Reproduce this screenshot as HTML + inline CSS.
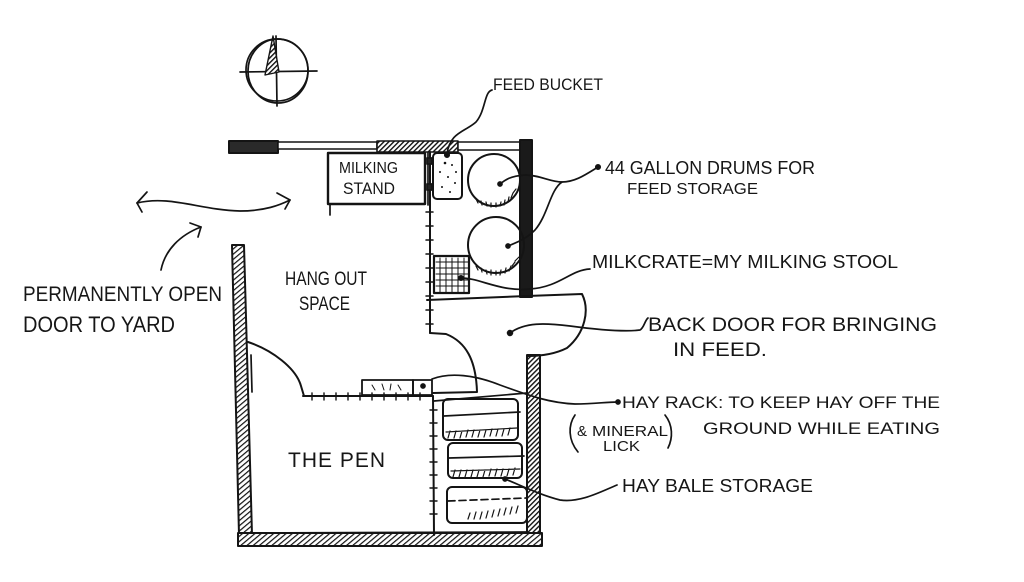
<!DOCTYPE html>
<html><head><meta charset="utf-8"><style>
html,body{margin:0;padding:0;background:#fff;}
svg{display:block;}
text{font-family:"Liberation Sans",sans-serif;fill:#161616;}
</style></head><body>
<svg width="1024" height="582" viewBox="0 0 1024 582" xmlns="http://www.w3.org/2000/svg">
<defs>
<pattern id="hd" width="3.5" height="3.5" patternUnits="userSpaceOnUse" patternTransform="rotate(45)"><rect width="3.5" height="3.5" fill="#fff"/><line x1="0" y1="0" x2="0" y2="3.5" stroke="#111" stroke-width="2.8"/></pattern>
<pattern id="hl" width="4" height="4" patternUnits="userSpaceOnUse" patternTransform="rotate(50)"><rect width="4" height="4" fill="#fff"/><line x1="0" y1="0" x2="0" y2="4" stroke="#111" stroke-width="2.4"/></pattern>
</defs>
<rect width="1024" height="582" fill="#fff"/>
<g fill="none" stroke="#141414" stroke-width="1.7" stroke-linecap="round" stroke-linejoin="round">
<!-- compass -->
<circle cx="277" cy="70" r="31"/>
<ellipse cx="278" cy="71" rx="30" ry="32"/>
<line x1="240" y1="72" x2="317" y2="71"/>
<line x1="276" y1="36" x2="277" y2="106"/>
<polygon points="273,36 265,75 279,72" fill="url(#hd)" stroke-width="1.4"/>

<!-- double arrow -->
<path d="M137,203 C170,195 200,210 240,211 C265,211 280,205 290,200"/>
<path d="M147,192 L137,203 L142,212"/>
<path d="M277,193 L290,200 L285,209"/>
<!-- curved arrow -->
<path d="M161,270 C165,250 180,235 201,227"/>
<path d="M190,223 L201,227 L198,237"/>

<!-- walls -->
<rect x="229" y="141" width="49" height="12" fill="#2a2a2a" stroke-width="2"/>
<rect x="278" y="142" width="99" height="7" fill="#fff" stroke-width="1.5"/>
<rect x="377" y="141" width="81" height="11" fill="url(#hd)" stroke-width="1.6"/>
<rect x="458" y="142" width="62" height="8" fill="#fff" stroke-width="1.5"/>
<rect x="520" y="140" width="12" height="157" fill="#1a1a1a" stroke-width="2"/>
<rect x="527" y="355" width="13" height="190" fill="url(#hd)" stroke-width="2"/>
<polygon points="232,245 244,245 252,535 239,535" fill="url(#hl)" stroke-width="2"/>
<rect x="238" y="533" width="304" height="13" fill="url(#hl)" stroke-width="2"/>
<line x1="252" y1="533" x2="527" y2="532"/>

<!-- milking stand -->
<rect x="328" y="153" width="97" height="51" stroke-width="2.4"/>
<line x1="330" y1="204" x2="330" y2="215"/>

<!-- service partition -->
<line x1="428" y1="153" x2="428" y2="205"/>
<line x1="430" y1="152" x2="430" y2="333" stroke-width="2"/>
<g stroke-width="1.5">
<line x1="426" y1="212" x2="433" y2="212"/><line x1="426" y1="226" x2="433" y2="226"/>
<line x1="426" y1="240" x2="433" y2="240"/><line x1="426" y1="254" x2="433" y2="254"/>
<line x1="426" y1="268" x2="433" y2="268"/><line x1="426" y1="282" x2="433" y2="282"/>
<line x1="426" y1="296" x2="433" y2="296"/><line x1="426" y1="310" x2="433" y2="310"/>
<line x1="426" y1="324" x2="433" y2="324"/>
</g>

<!-- feed bucket -->
<rect x="433" y="153" width="29" height="46" rx="4" stroke-width="2"/>
<rect x="427" y="158" width="5" height="6" fill="#222"/>
<rect x="427" y="184" width="5" height="6" fill="#222"/>
<g fill="#111" stroke="none">
<circle cx="445" cy="163" r="1.3"/><circle cx="452" cy="165" r="1"/><circle cx="440" cy="172" r="1"/>
<circle cx="448" cy="177" r="1"/><circle cx="455" cy="183" r="1"/><circle cx="442" cy="187" r="1"/>
<circle cx="450" cy="192" r="1"/><circle cx="456" cy="172" r="1"/>
</g>

<!-- drums -->
<circle cx="494" cy="180" r="26" stroke-width="2"/>
<circle cx="496" cy="245" r="28" stroke-width="2"/>
<g stroke-width="1.2">
<path d="M476,199 L478,203 M481,201 L482,205 M486,202 L487,206 M491,203 L491,207 M496,203 L496,207 M501,202 L500,206 M505,200 L504,205 M509,197 L508,202 M513,193 L511,198 M516,189 L513,193"/>
<path d="M476,266 L478,270 M481,268 L482,272 M486,270 L487,274 M491,270 L491,275 M496,271 L496,275 M501,270 L500,275 M506,268 L505,273 M511,266 L509,271 M515,262 L512,266 M519,257 L515,261"/>
</g>

<!-- milk crate -->
<rect x="434" y="256" width="35" height="37" stroke-width="2.2"/>
<g stroke-width="1">
<line x1="440" y1="258" x2="440" y2="292"/><line x1="446" y1="258" x2="446" y2="292"/>
<line x1="452" y1="258" x2="452" y2="292"/><line x1="458" y1="258" x2="458" y2="292"/><line x1="464" y1="258" x2="464" y2="292"/>
<line x1="436" y1="262" x2="468" y2="262"/><line x1="436" y1="268" x2="468" y2="268"/>
<line x1="436" y1="274" x2="468" y2="274"/><line x1="436" y1="280" x2="468" y2="280"/><line x1="436" y1="286" x2="468" y2="286"/>
</g>

<!-- back door -->
<path d="M427,300 L527,296 L582,294 C590,310 585,333 567,348 C555,354 540,356 528,356" stroke-width="2"/>
<!-- inner door -->
<path d="M430,333 L446,334 C466,342 476,360 477,392 L433,393" stroke-width="2"/>

<!-- pen door -->
<path d="M248,342 C272,350 296,368 301,386 L304,396" stroke-width="2"/>
<line x1="251" y1="355" x2="252" y2="392"/>
<!-- pen partition -->
<line x1="303" y1="396" x2="433" y2="396" stroke-width="2"/>
<g stroke-width="1.4">
<line x1="312" y1="393" x2="312" y2="400"/><line x1="324" y1="393" x2="324" y2="400"/>
<line x1="336" y1="393" x2="336" y2="400"/><line x1="348" y1="393" x2="348" y2="400"/>
<line x1="360" y1="393" x2="360" y2="400"/><line x1="372" y1="393" x2="372" y2="400"/>
<line x1="384" y1="393" x2="384" y2="400"/><line x1="396" y1="393" x2="396" y2="400"/>
<line x1="408" y1="393" x2="408" y2="400"/><line x1="420" y1="393" x2="420" y2="400"/>
</g>
<!-- hay rack + mineral -->
<rect x="362" y="380" width="51" height="15" stroke-width="1.8"/>
<rect x="413" y="380" width="19" height="15" stroke-width="1.8"/>
<circle cx="423" cy="386" r="2" fill="#111"/>
<path d="M372,385 L375,390 M382,384 L384,390 M391,384 L390,390 M398,385 L401,390" stroke-width="1"/>

<!-- vertical partition (pen / bales) -->
<line x1="433" y1="396" x2="434" y2="535" stroke-width="2"/>
<g stroke-width="1.4">
<line x1="430" y1="410" x2="437" y2="410"/><line x1="430" y1="423" x2="437" y2="423"/>
<line x1="430" y1="436" x2="437" y2="436"/><line x1="430" y1="449" x2="437" y2="449"/>
<line x1="430" y1="462" x2="437" y2="462"/><line x1="430" y1="475" x2="437" y2="475"/>
<line x1="430" y1="488" x2="437" y2="488"/><line x1="430" y1="501" x2="437" y2="501"/>
<line x1="430" y1="514" x2="437" y2="514"/>
</g>
<line x1="434" y1="401" x2="527" y2="393"/>

<!-- hay bales -->
<rect x="443" y="399" width="75" height="41" rx="5" stroke-width="2"/>
<line x1="444" y1="416" x2="520" y2="412"/>
<path d="M446,432 L517,428 M450,431 L448,438 M456,431 L454,438 M462,431 L460,438 M468,430 L466,437 M474,430 L472,437 M480,430 L478,437 M486,430 L484,437 M492,429 L490,436 M498,429 L496,436 M504,429 L502,436 M510,428 L508,435" stroke-width="1.2"/>
<rect x="448" y="443" width="74" height="35" rx="5" stroke-width="2"/>
<line x1="449" y1="458" x2="524" y2="456"/>
<path d="M451,471 L520,469 M455,470 L453,477 M461,470 L459,477 M467,470 L465,477 M473,470 L471,477 M479,470 L477,477 M485,470 L483,477 M491,469 L489,476 M497,469 L495,476 M503,469 L501,476 M509,469 L507,476 M515,468 L513,475" stroke-width="1.2"/>
<rect x="447" y="487" width="80" height="36" rx="5" stroke-width="2"/>
<line x1="448" y1="501" x2="526" y2="498" stroke-dasharray="7,4"/>
<path d="M470,513 L468,519 M476,512 L474,519 M482,512 L480,519 M488,511 L486,518 M494,510 L492,517 M500,509 L498,516 M506,508 L504,515 M512,507 L510,514 M518,506 L516,513" stroke-width="1.2"/>

<!-- leaders -->
<path d="M492,90 C484,92 486,110 476,122 C465,132 450,132 447,154"/>
<circle cx="447" cy="155" r="2.2" fill="#111"/>
<path d="M598,167 C585,175 575,182 562,182 C550,182 540,175 525,175 C510,176 505,180 500,184"/>
<path d="M562,182 C550,190 548,215 535,230 C525,240 515,243 508,246"/>
<circle cx="598" cy="167" r="2.2" fill="#111"/>
<circle cx="500" cy="184" r="2" fill="#111"/>
<circle cx="508" cy="246" r="2" fill="#111"/>
<path d="M461,278 C480,278 500,292 530,289 C560,287 570,270 590,269"/>
<circle cx="461" cy="278" r="2.2" fill="#111"/>
<path d="M510,333 C525,322 545,323 570,326 C600,330 625,332 640,330 C644,328 645,320 648,318"/>
<circle cx="510" cy="333" r="2.4" fill="#111"/>
<path d="M432,379 C450,372 475,375 500,385 C530,396 550,403 575,404 C595,404 605,402 618,402"/>
<circle cx="618" cy="402" r="2" fill="#111"/>
<path d="M505,479 C520,485 540,495 560,500 C580,503 600,492 617,485"/>
<circle cx="505" cy="479" r="2" fill="#111"/>
<!-- parens around mineral lick -->
<path d="M575,415 C568,425 568,440 578,452"/>
<path d="M665,415 C673,425 673,438 668,448"/>
</g>

<!-- text -->
<text x="23" y="301" font-size="21" textLength="199" lengthAdjust="spacingAndGlyphs">PERMANENTLY OPEN</text>
<text x="23" y="332" font-size="22" textLength="152" lengthAdjust="spacingAndGlyphs">DOOR TO YARD</text>
<text x="285" y="285" font-size="19" textLength="82" lengthAdjust="spacingAndGlyphs">HANG OUT</text>
<text x="299" y="310" font-size="19" textLength="51" lengthAdjust="spacingAndGlyphs">SPACE</text>
<text x="339" y="173" font-size="16" textLength="59" lengthAdjust="spacingAndGlyphs">MILKING</text>
<text x="343" y="194" font-size="17" textLength="52" lengthAdjust="spacingAndGlyphs">STAND</text>
<text x="288" y="467" font-size="21" textLength="97" lengthAdjust="spacing">THE PEN</text>
<text x="493" y="90" font-size="17" textLength="110" lengthAdjust="spacingAndGlyphs">FEED BUCKET</text>
<text x="605" y="174" font-size="18" textLength="210" lengthAdjust="spacingAndGlyphs">44 GALLON DRUMS FOR</text>
<text x="627" y="194" font-size="16" textLength="131" lengthAdjust="spacingAndGlyphs">FEED STORAGE</text>
<text x="592" y="268" font-size="18" textLength="306" lengthAdjust="spacingAndGlyphs">MILKCRATE=MY MILKING STOOL</text>
<text x="648" y="331" font-size="19" textLength="289" lengthAdjust="spacingAndGlyphs">BACK DOOR FOR BRINGING</text>
<text x="673" y="356" font-size="19" textLength="94" lengthAdjust="spacingAndGlyphs">IN FEED.</text>
<text x="622" y="408" font-size="17" textLength="318" lengthAdjust="spacingAndGlyphs">HAY RACK: TO KEEP HAY OFF THE</text>
<text x="703" y="434" font-size="17" textLength="237" lengthAdjust="spacingAndGlyphs">GROUND WHILE EATING</text>
<text x="577" y="436" font-size="15" textLength="10" lengthAdjust="spacingAndGlyphs">&amp;</text>
<text x="592" y="436" font-size="15" textLength="76" lengthAdjust="spacingAndGlyphs">MINERAL</text>
<text x="603" y="451" font-size="15" textLength="37" lengthAdjust="spacingAndGlyphs">LICK</text>
<text x="622" y="492" font-size="18" textLength="191" lengthAdjust="spacingAndGlyphs">HAY BALE STORAGE</text>
</svg>
</body></html>
